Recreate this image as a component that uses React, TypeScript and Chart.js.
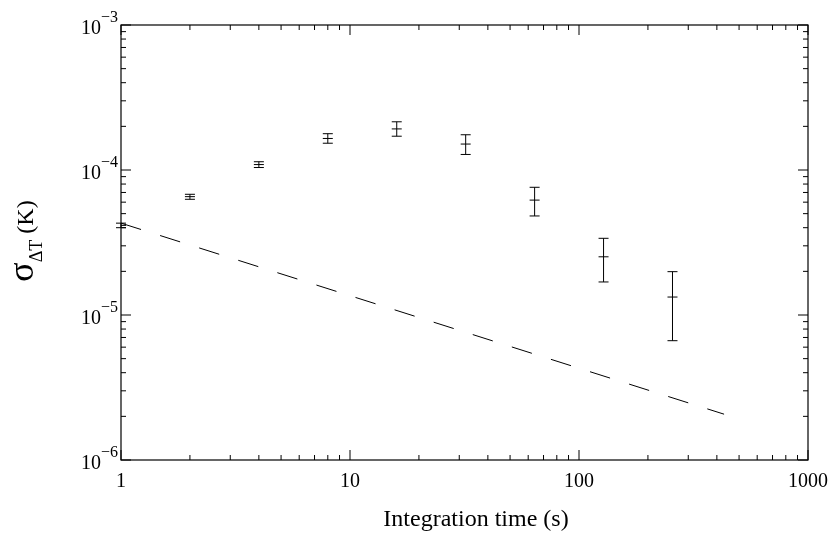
import { useEffect, useRef } from 'react'
import { Chart, registerables, type ChartConfiguration, type Plugin } from 'chart.js'

Chart.register(...registerables)

// integration times (s) and measured sigma (K) with error-bar ends
const times = [1, 2, 4, 8, 16, 32, 64, 128, 256]
const sigma = [4.15e-5, 6.55e-5, 1.09e-4, 1.65e-4, 1.92e-4, 1.51e-4, 6.2e-5, 2.52e-5, 1.33e-5]
const errHi = [4.3e-5, 6.8e-5, 1.14e-4, 1.78e-4, 2.15e-4, 1.75e-4, 7.6e-5, 3.38e-5, 1.99e-5]
const errLo = [4.0e-5, 6.28e-5, 1.04e-4, 1.53e-4, 1.71e-4, 1.28e-4, 4.82e-5, 1.69e-5, 6.65e-6]

// radiometer reference line (dashed)
const refTimes = [1, 430]
const refSigma = [4.3e-5, 2.07e-6]

const xTicks = [1, 10, 100, 1000]
const xTickLabels = ['1', '10', '100', '1000']
const yTicks = [1e-3, 1e-4, 1e-5, 1e-6]
const yTickExp = ['\u22123', '\u22124', '\u22125', '\u22126']

const FONT = '"Liberation Serif", "DejaVu Serif", serif'

const frame: Plugin = {
  id: 'frame',
  afterDatasetsDraw(chart) {
    const { ctx } = chart
    const xs = chart.scales.x
    const ys = chart.scales.y
    ctx.save()
    ctx.strokeStyle = '#000'
    ctx.lineWidth = 1
    times.forEach((t, i) => {
      const px = xs.getPixelForValue(t)
      const top = ys.getPixelForValue(errHi[i])
      const bot = ys.getPixelForValue(errLo[i])
      ctx.beginPath()
      ctx.moveTo(px, top); ctx.lineTo(px, bot)
      ctx.moveTo(px - 5, top); ctx.lineTo(px + 5, top)
      ctx.moveTo(px - 5, bot); ctx.lineTo(px + 5, bot)
      ctx.stroke()
    })
    ctx.restore()
  },
  afterDraw(chart) {
    const { ctx, chartArea: a } = chart
    const xs = chart.scales.x
    const ys = chart.scales.y
    ctx.save()
    ctx.strokeStyle = '#000'
    ctx.fillStyle = '#000'
    ctx.lineWidth = 1.2
    ctx.strokeRect(a.left, a.top, a.right - a.left, a.bottom - a.top)

    ctx.lineWidth = 1
    ctx.beginPath()
    // x ticks, mirrored on top
    xTicks.forEach((d) => {
      const px = xs.getPixelForValue(d)
      ctx.moveTo(px, a.bottom); ctx.lineTo(px, a.bottom - 10)
      ctx.moveTo(px, a.top); ctx.lineTo(px, a.top + 10)
      if (d < 1000) {
        for (let m = 2; m <= 9; m++) {
          const mx = xs.getPixelForValue(m * d)
          ctx.moveTo(mx, a.bottom); ctx.lineTo(mx, a.bottom - 5)
          ctx.moveTo(mx, a.top); ctx.lineTo(mx, a.top + 5)
        }
      }
    })
    // y ticks, mirrored on right
    yTicks.forEach((d) => {
      const py = ys.getPixelForValue(d)
      ctx.moveTo(a.left, py); ctx.lineTo(a.left + 10, py)
      ctx.moveTo(a.right, py); ctx.lineTo(a.right - 10, py)
      if (d < 1e-3) {
        for (let m = 2; m <= 9; m++) {
          const my = ys.getPixelForValue(m * d)
          ctx.moveTo(a.left, my); ctx.lineTo(a.left + 5, my)
          ctx.moveTo(a.right, my); ctx.lineTo(a.right - 5, my)
        }
      }
    })
    ctx.stroke()

    // x tick labels
    ctx.font = `20px ${FONT}`
    ctx.textAlign = 'center'
    ctx.textBaseline = 'alphabetic'
    xTicks.forEach((d, i) => {
      ctx.fillText(xTickLabels[i], xs.getPixelForValue(d), a.bottom + 27)
    })

    // y tick labels: 10 with superscript exponent
    yTicks.forEach((d, i) => {
      const py = ys.getPixelForValue(d)
      ctx.font = `20px ${FONT}`
      ctx.textAlign = 'right'
      ctx.fillText('10', a.left - 20, py + 9)
      ctx.font = `16px ${FONT}`
      ctx.textAlign = 'left'
      ctx.fillText(yTickExp[i], a.left - 20, py - 3)
    })

    // x title
    ctx.font = `24px ${FONT}`
    ctx.textAlign = 'center'
    ctx.fillText('Integration time (s)', 476, 526)

    // y title, rotated: sigma with subscript ΔT then (K)
    ctx.translate(33, 241)
    ctx.rotate(-Math.PI / 2)
    const parts: [string, number, number][] = [
      ['\u03c3', 36, 0],
      ['\u0394T', 18, 9],
      [' (K)', 24, 0],
    ]
    let total = 0
    parts.forEach(([t, s]) => { ctx.font = `${s}px ${FONT}`; total += ctx.measureText(t).width })
    let x = -total / 2
    ctx.textAlign = 'left'
    parts.forEach(([t, s, dy]) => {
      ctx.font = `${s}px ${FONT}`
      ctx.fillText(t, x, dy)
      x += ctx.measureText(t).width
    })
    ctx.restore()
  },
}

export default function App() {
  const ref = useRef<HTMLCanvasElement>(null)

  useEffect(() => {
    if (!ref.current) return
    const chart = new Chart(ref.current, {
      type: 'scatter',
      data: {
        datasets: [
          {
            data: times.map((t, i) => ({ x: t, y: sigma[i] })),
            pointStyle: 'line',
            pointRadius: 5,
            borderColor: '#000',
            backgroundColor: '#000',
            borderWidth: 1,
            showLine: false,
          },
          {
            type: 'line',
            data: refTimes.map((t, i) => ({ x: t, y: refSigma[i] })),
            borderColor: '#000',
            borderWidth: 1,
            borderDash: [21, 20],
            pointRadius: 0,
            fill: false,
          },
        ],
      },
      options: {
        animation: false,
        responsive: true,
        maintainAspectRatio: false,
        layout: { padding: { left: 121, right: 28, top: 25, bottom: 75 } },
        scales: {
          x: { type: 'logarithmic', min: 1, max: 1000, display: false },
          y: { type: 'logarithmic', min: 1e-6, max: 1e-3, display: false },
        },
        plugins: { legend: { display: false }, tooltip: { enabled: false } },
      },
      plugins: [frame],
    } as ChartConfiguration)
    return () => { chart.destroy() }
  }, [])

  return (
    <div style={{ position: 'absolute', left: 0, top: 0, width: 836, height: 535, background: '#fff' }}>
      <canvas ref={ref} role="img" aria-label="Sigma delta T versus integration time" />
    </div>
  )
}
